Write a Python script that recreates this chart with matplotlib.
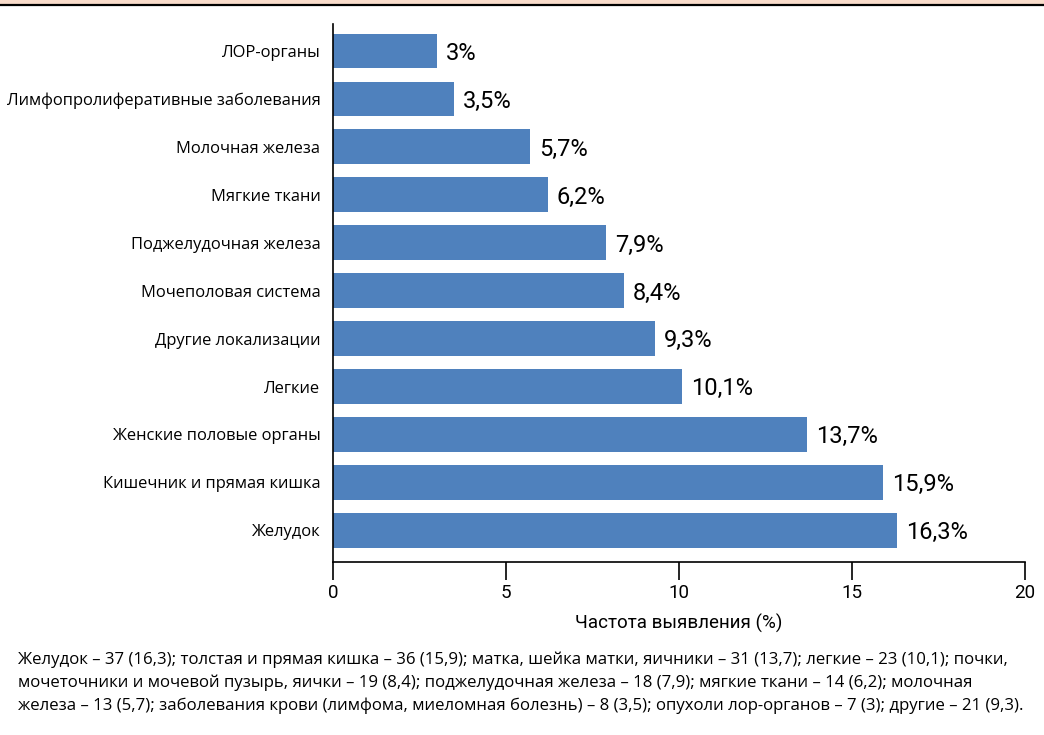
import matplotlib
matplotlib.use("Agg")
import matplotlib.pyplot as plt
from matplotlib.patches import Rectangle
from matplotlib.lines import Line2D

# Частота выявления опухолей по локализациям (%)
categories = [
    "ЛОР-органы",
    "Лимфопролиферативные заболевания",
    "Молочная железа",
    "Мягкие ткани",
    "Поджелудочная железа",
    "Мочеполовая система",
    "Другие локализации",
    "Легкие",
    "Женские половые органы",
    "Кишечник и прямая кишка",
    "Желудок",
]
values = [3, 3.5, 5.7, 6.2, 7.9, 8.4, 9.3, 10.1, 13.7, 15.9, 16.3]
xticks = [0, 5, 10, 15, 20]

footnote = ("Желудок – 37 (16,3); толстая и прямая кишка – 36 (15,9); матка, шейка матки, яичники – 31 (13,7); легкие – 23 (10,1); почки,\n"
            "мочеточники и мочевой пузырь, яички – 19 (8,4); поджелудочная железа – 18 (7,9); мягкие ткани – 14 (6,2); молочная\n"
            "железа – 13 (5,7); заболевания крови (лимфома, миеломная болезнь) – 8 (3,5); опухоли лор-органов – 7 (3); другие – 21 (9,3).")

BAR = "#4f81bd"
narrow = ["Roboto", "DejaVu Sans"]
label_font = ["Open Sans", "DejaVu Sans"]

fig = plt.figure(figsize=(10.44, 7.35), dpi=100)

# header strip
fig.add_artist(Rectangle((0, 1 - 4 / 735), 1, 4 / 735, transform=fig.transFigure,
                         color="#f9dccb", lw=0))
fig.add_artist(Line2D([0, 1], [1 - 4.5 / 735] * 2, transform=fig.transFigure,
                      color="black", lw=1.6))

ax = fig.add_axes([333 / 1044, 1 - 562 / 735, 692 / 1044, 538 / 735])
pos = list(range(len(categories)))
ax.barh(pos, values, height=0.72, color=BAR, zorder=2)
ax.set_ylim(10.66, -0.56)
ax.set_xlim(0, 20)

for p, v in zip(pos, values):
    txt = f"{v:g}".replace(".", ",") + "%"
    ax.text(v + 0.25, p + 0.05, txt, va="center", ha="left",
            fontsize=17, family=narrow)

ax.set_yticks(pos)
ax.set_yticklabels(categories, fontsize=11.9, family=label_font)
ax.tick_params(axis="y", length=0, pad=9)
ax.set_xticks(xticks)
ax.set_xticklabels([str(t) for t in xticks], fontsize=13.5, family=narrow)
ax.tick_params(axis="x", length=13, width=1.2, pad=3)
ax.set_xlabel("Частота выявления (%)", fontsize=13.5, family=narrow, labelpad=8)

for s in ["top", "right"]:
    ax.spines[s].set_visible(False)
ax.spines["left"].set_linewidth(1.2)
ax.spines["bottom"].set_linewidth(1.2)

fig.text(18 / 1044, 1 - 651 / 735, footnote, ha="left", va="top",
         fontsize=12.1, family=label_font, linespacing=1.53)

fig.savefig("out.png", dpi=100)
